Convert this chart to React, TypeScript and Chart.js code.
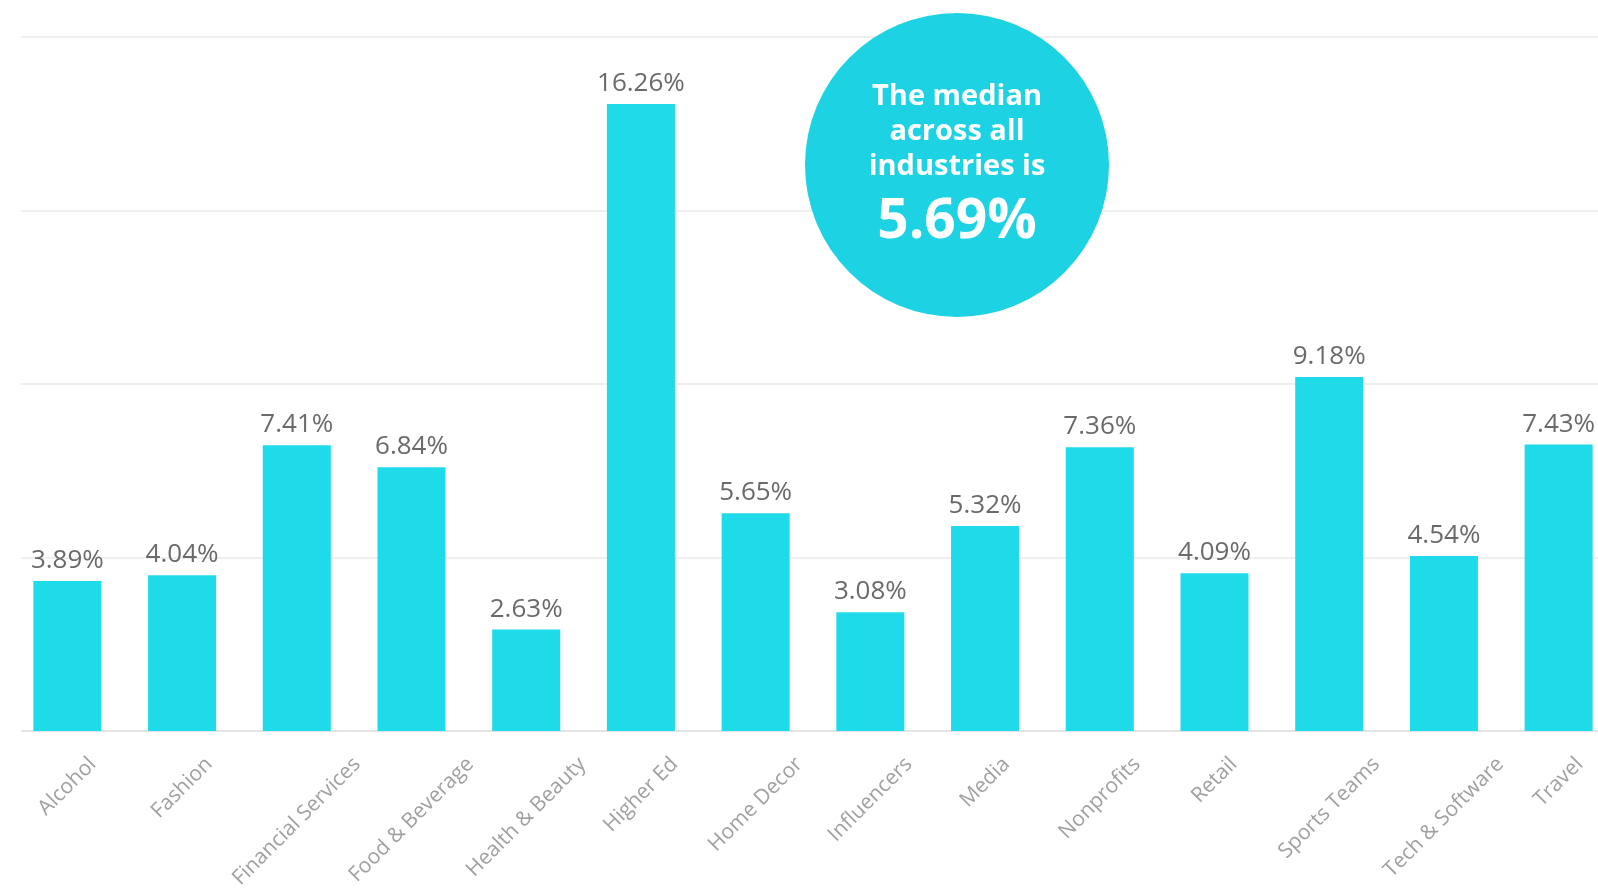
import React, { useEffect, useRef } from "react";
import { Chart, registerables } from "chart.js";

Chart.register(...registerables);

const categories: string[] = [
  "Alcohol",
  "Fashion",
  "Financial Services",
  "Food & Beverage",
  "Health & Beauty",
  "Higher Ed",
  "Home Decor",
  "Influencers",
  "Media",
  "Nonprofits",
  "Retail",
  "Sports Teams",
  "Tech & Software",
  "Travel",
];

const engagementRates: number[] = [
  3.89, 4.04, 7.41, 6.84, 2.63, 16.26, 5.65, 3.08, 5.32, 7.36, 4.09, 9.18, 4.54, 7.43,
];

const medianLines: string[] = ["The median", "across all", "industries is"];
const medianValue = "5.69%";

const yMax = 18;
const yStep = 4.5;

const BAR_COLOR = "#1fdbe9";
const CIRCLE_COLOR = "#1dd3e3";
const FONT = "'Open Sans', 'Noto Sans', sans-serif";

const overlayPlugin = {
  id: "overlay",
  beforeDatasetsDraw(chart: any) {
    const { ctx, scales } = chart;
    const y = scales.y;
    ctx.save();
    for (let v = 0; v <= yMax + 1e-6; v += yStep) {
      const py = Math.round(y.getPixelForValue(v));
      ctx.strokeStyle = v === 0 ? "#e4e4e4" : "#efefef";
      ctx.lineWidth = 2;
      ctx.beginPath();
      ctx.moveTo(21, py);
      ctx.lineTo(chart.width, py);
      ctx.stroke();
    }
    ctx.restore();
  },
  afterDatasetsDraw(chart: any) {
    const { ctx, scales } = chart;
    const x = scales.x;
    const meta = chart.getDatasetMeta(0);
    ctx.save();
    // value labels
    ctx.fillStyle = "#6a6a6a";
    ctx.font = `400 26px ${FONT}`;
    ctx.textAlign = "center";
    ctx.textBaseline = "alphabetic";
    meta.data.forEach((bar: any, i: number) => {
      ctx.fillText(engagementRates[i].toFixed(2) + "%", bar.x, bar.y - 13);
    });
    // rotated category labels
    ctx.fillStyle = "#a0a0a0";
    ctx.font = `400 21px ${FONT}`;
    const bottom = chart.chartArea.bottom;
    categories.forEach((label, i) => {
      const cx = x.getPixelForValue(i);
      const w = ctx.measureText(label).width;
      const cy = bottom + 26 + w * 0.3536 + 4;
      ctx.save();
      ctx.translate(cx, cy);
      ctx.rotate(-Math.PI / 4);
      ctx.textAlign = "center";
      ctx.textBaseline = "middle";
      ctx.fillText(label, 0, 0);
      ctx.restore();
    });
    // median circle
    const ccx = 957;
    const ccy = 165;
    ctx.fillStyle = CIRCLE_COLOR;
    ctx.beginPath();
    ctx.arc(ccx, ccy, 152, 0, Math.PI * 2);
    ctx.fill();
    ctx.fillStyle = "#ffffff";
    ctx.textAlign = "center";
    ctx.textBaseline = "middle";
    ctx.font = `700 29px ${FONT}`;
    medianLines.forEach((line, i) => {
      ctx.fillText(line, ccx, 97 + i * 35);
    });
    ctx.font = `700 55px ${FONT}`;
    ctx.fillText(medianValue, ccx, 222);
    ctx.restore();
  },
};

export default function App() {
  const canvasRef = useRef<HTMLCanvasElement | null>(null);

  useEffect(() => {
    if (!canvasRef.current) return;
    const chart = new Chart(canvasRef.current, {
      type: "bar",
      data: {
        labels: categories,
        datasets: [
          {
            data: engagementRates,
            backgroundColor: BAR_COLOR,
            borderWidth: 0,
            categoryPercentage: 1,
            barPercentage: 0.593,
          },
        ],
      },
      options: {
        animation: false,
        responsive: true,
        maintainAspectRatio: false,
        layout: { padding: { left: 10, right: 4, top: 37, bottom: 0 } },
        plugins: {
          legend: { display: false },
          tooltip: { enabled: false },
          title: { display: false },
        },
        scales: {
          x: {
            grid: { display: false },
            border: { display: false },
            ticks: { display: false },
            afterFit: (scale: any) => {
              scale.height = 159;
            },
          },
          y: {
            display: false,
            min: 0,
            max: yMax,
            ticks: { stepSize: yStep },
          },
        },
      },
      plugins: [overlayPlugin],
    });
    return () => chart.destroy();
  }, []);

  return (
    <div
      style={{
        position: "fixed",
        left: 0,
        top: 0,
        width: 1598,
        height: 890,
        overflow: "hidden",
        background: "#ffffff",
      }}
    >
      <div style={{ position: "relative", width: 1620, height: 890 }}>
        <canvas ref={canvasRef} />
      </div>
    </div>
  );
}
